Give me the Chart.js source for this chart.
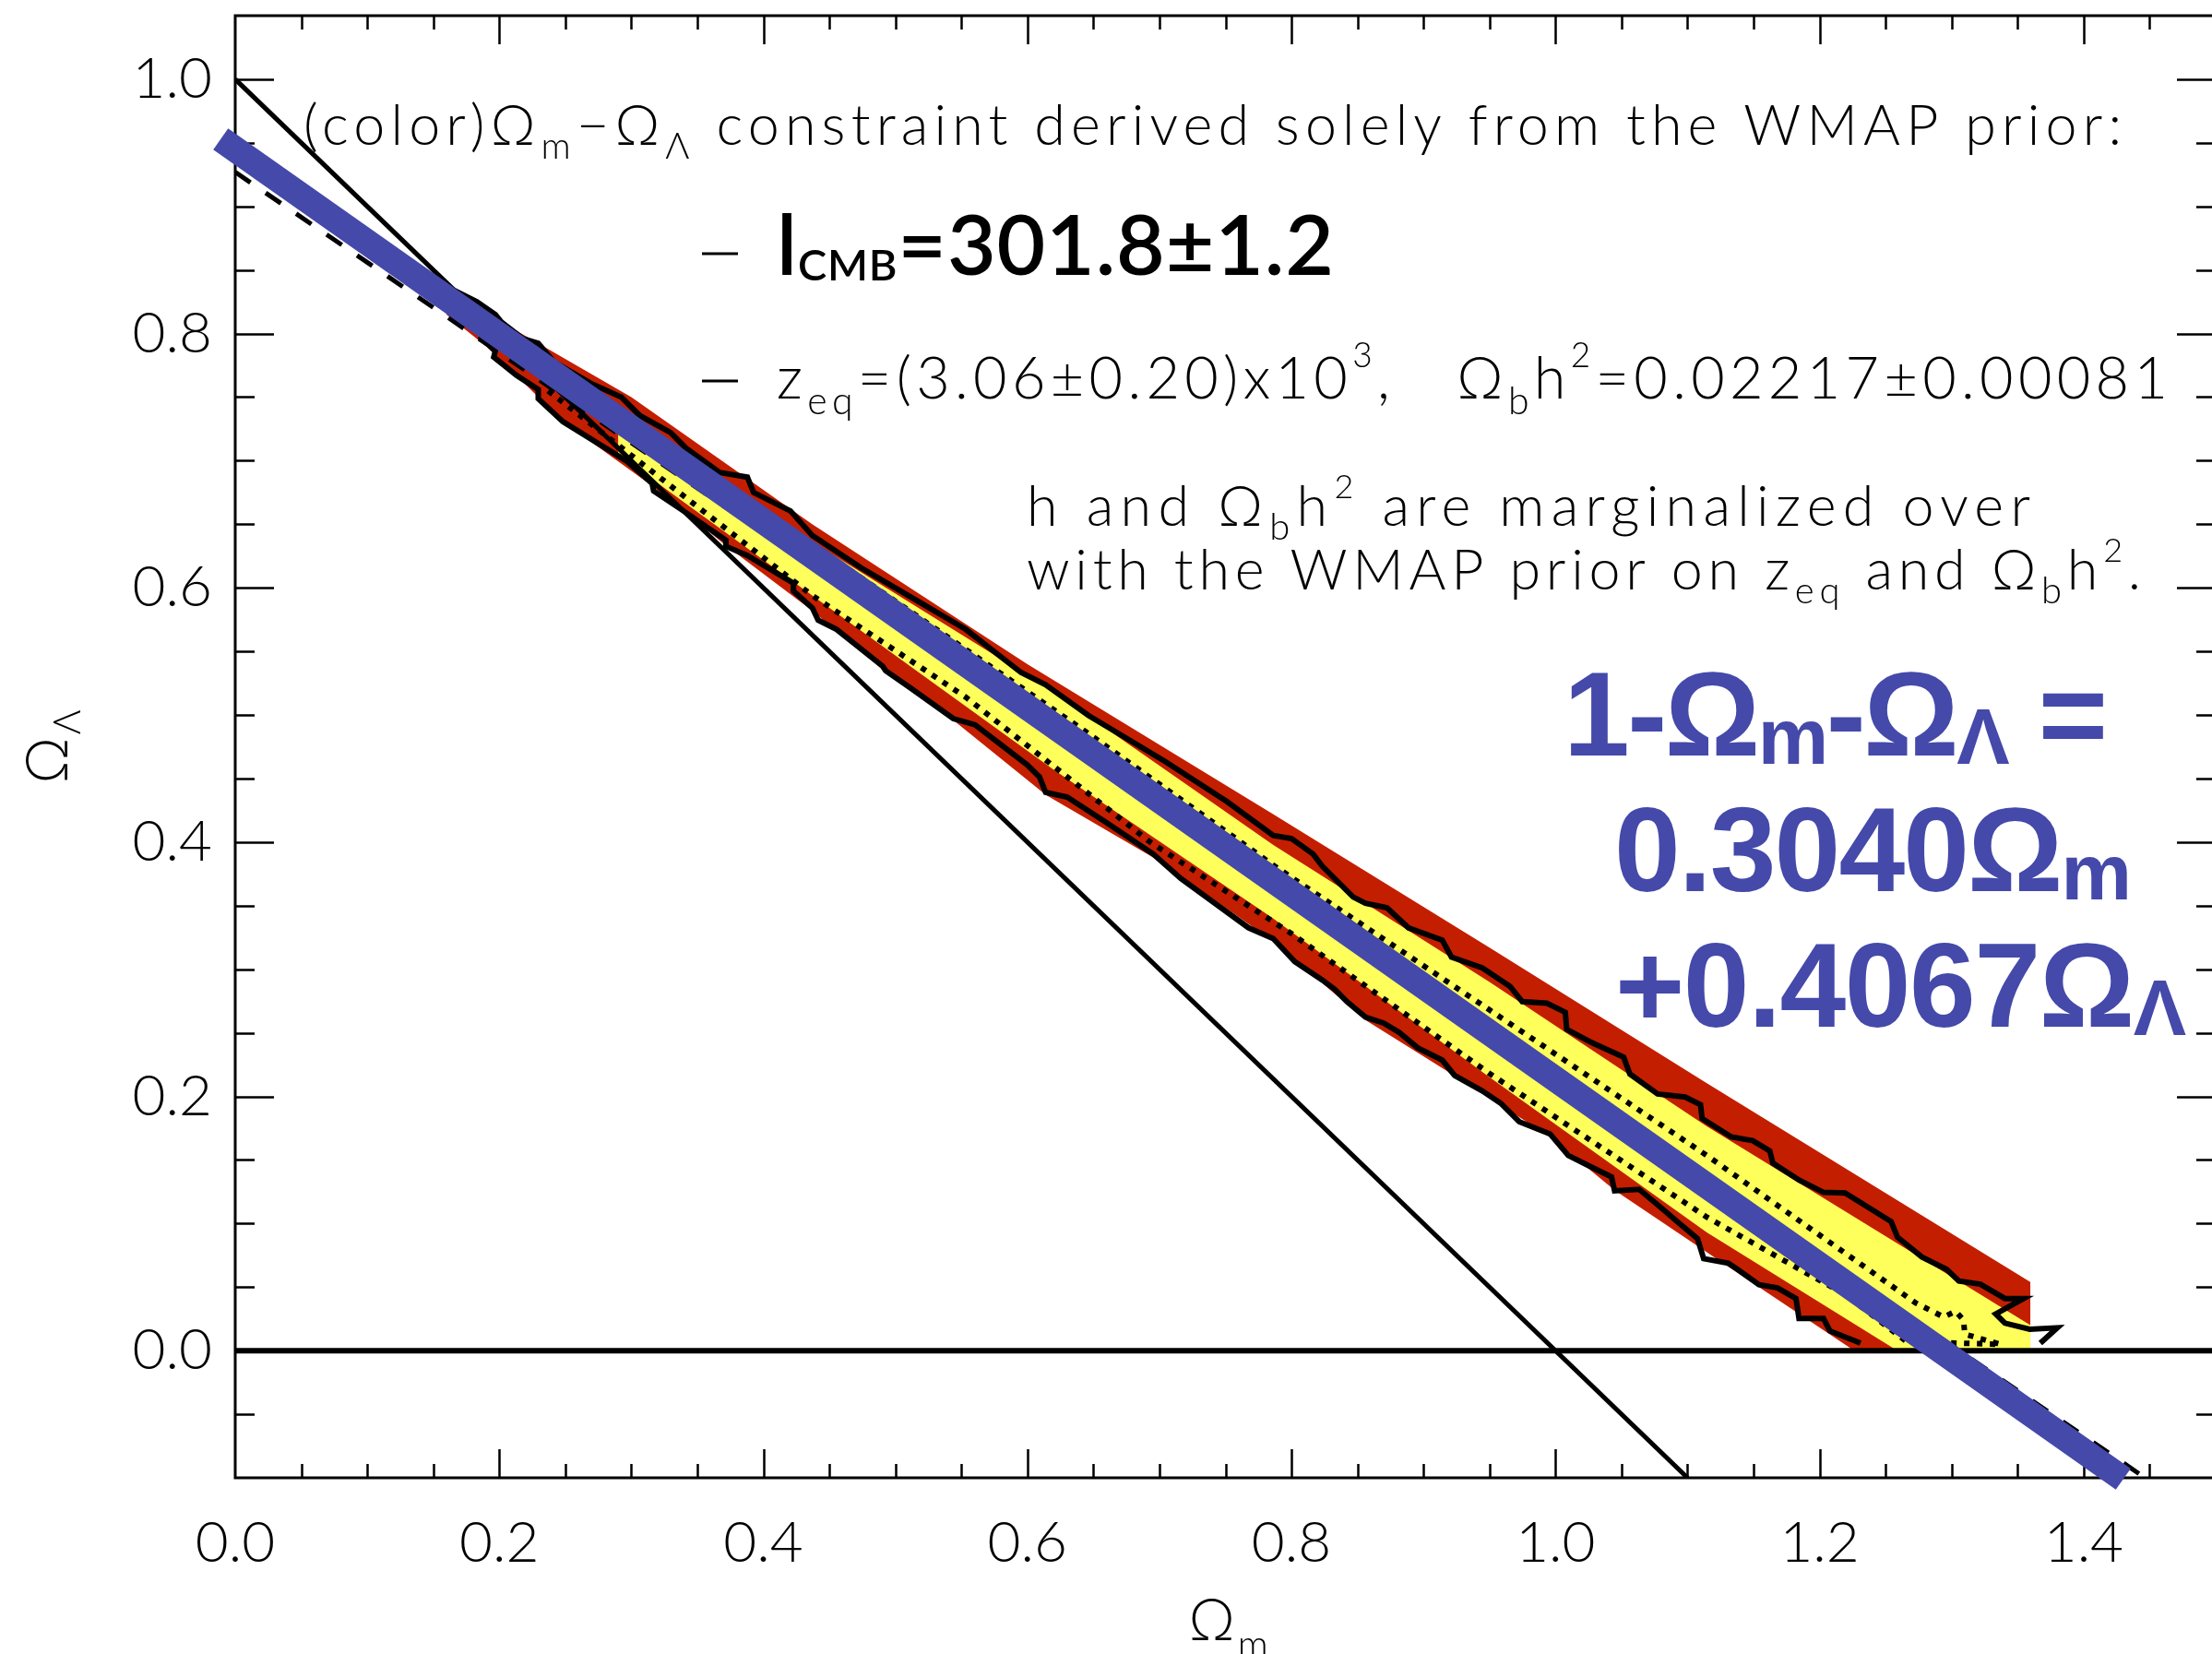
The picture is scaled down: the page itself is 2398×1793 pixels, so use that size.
<!DOCTYPE html>
<html><head><meta charset="utf-8">
<script src="https://cdn.jsdelivr.net/npm/chart.js@4.4.1/dist/chart.umd.min.js"></script>
<style>
html,body{margin:0;padding:0;background:#fff;overflow:hidden;width:2398px;height:1793px;}
#wrap{position:relative;width:2398px;height:1793px;overflow:hidden;background:#fff;}
canvas{display:block;}
</style></head><body><div id="wrap"><canvas id="c" width="2410" height="1793" style="width:2410px;height:1793px"></canvas></div>
<script>
// ---------- axis settings ----------
const xRange = [0, 1.5];
const yRange = [-0.1, 1.05];
const xTickValues = [0, 0.2, 0.4, 0.6, 0.8, 1.0, 1.2, 1.4];
const yTickValues = [0, 0.2, 0.4, 0.6, 0.8, 1.0];
const minorStep = 0.05;

// ---------- data (Omega_m, Omega_Lambda) ----------
const redRegion = [
  [0.160,0.832],[0.200,0.810],[0.300,0.750],[0.437,0.650],[0.600,0.540],[0.786,0.422],
  [0.950,0.317],[1.1146,0.2104],[1.3596,0.054],[1.3596,0.0],[1.2263,0.0],
  [1.131,0.066],[1.045,0.126],[0.996,0.168],[0.944,0.203],[0.856,0.260],[0.786,0.322],
  [0.700,0.385],[0.614,0.437],[0.545,0.495],[0.490,0.536],[0.437,0.582],[0.372,0.633],
  [0.316,0.680],[0.248,0.731],[0.213,0.767],[0.190,0.790],[0.160,0.815],[0.160,0.832]
];
const yellowRegion = [
  [0.290,0.738],[0.437,0.636],[0.6185,0.519],[0.786,0.398],[0.950,0.290],[1.1146,0.1765],
  [1.3596,0.020],[1.3596,0.0],[1.259,0.0],[1.1146,0.093],[0.950,0.215],[0.786,0.340],
  [0.6185,0.458],[0.437,0.594],[0.290,0.705],[0.290,0.738]
];
const upperContour = [
  [0.1643,0.8347],[0.183,0.825],[0.197,0.815],[0.2016,0.809],[0.2179,0.796],[0.2295,0.7924],
  [0.2412,0.7779],[0.2691,0.7609],[0.2924,0.750],[0.3064,0.7355],[0.3297,0.7222],[0.3413,0.710],
  [0.3669,0.6907],[0.3879,0.6871],[0.3926,0.675],[0.4205,0.6605],[0.4371,0.6411],[0.474,0.6157],
  [0.5137,0.5915],[0.5533,0.5673],[0.5952,0.5334],[0.6138,0.5238],[0.6464,0.4995],[0.6697,0.485],
  [0.7046,0.4632],[0.7512,0.4318],[0.7862,0.4052],[0.8001,0.4028],[0.8164,0.3906],[0.8234,0.381],
  [0.835,0.3689],[0.8467,0.3568],[0.856,0.3519],[0.8723,0.3483],[0.8886,0.3326],[0.9142,0.3229],
  [0.9212,0.3096],[0.9445,0.3011],[0.9655,0.2866],[0.9748,0.2745],[0.9934,0.2733],[1.0074,0.2661],
  [1.0085,0.2527],[1.026,0.243],[1.0516,0.2309],[1.0563,0.2176],[1.0773,0.2019],[1.0982,0.1995],
  [1.1098,0.1935],[1.111,0.1826],[1.1332,0.1681],[1.1495,0.1651],[1.1623,0.1571],[1.1646,0.1475],
  [1.1844,0.1342],[1.203,0.1245],[1.2193,0.124],[1.2542,0.1015],[1.2589,0.0894],[1.2775,0.0737],
  [1.2962,0.064],[1.3055,0.0548],[1.3218,0.0523],[1.3404,0.041],[1.3544,0.041],[1.3334,0.0289],
  [1.3404,0.0216],[1.3591,0.0168],[1.380,0.018],[1.3672,0.0059]
];
const lowerContour = [
  [0.185,0.798],[0.197,0.7863],[0.1958,0.7815],[0.2132,0.767],[0.2295,0.756],[0.2295,0.7488],
  [0.2482,0.7307],[0.2971,0.6992],[0.3157,0.6822],[0.3169,0.6762],[0.3413,0.6592],[0.3716,0.6375],
  [0.3716,0.6327],[0.3879,0.6254],[0.4228,0.6036],[0.4228,0.5975],[0.4371,0.5842],[0.4415,0.5746],
  [0.4555,0.5673],[0.4904,0.5383],[0.4927,0.5347],[0.5114,0.5213],[0.5439,0.4971],[0.5603,0.4923],
  [0.5998,0.4608],[0.6092,0.4512],[0.6138,0.4391],[0.6301,0.4354],[0.6604,0.4149],[0.6953,0.3906],
  [0.7163,0.3713],[0.7675,0.3326],[0.7862,0.3241],[0.8025,0.306],[0.8234,0.2915],[0.8328,0.2842],
  [0.842,0.2745],[0.856,0.2624],[0.870,0.2576],[0.8816,0.2503],[0.8956,0.2382],[0.9142,0.2285],
  [0.9236,0.2164],[0.9445,0.2043],[0.9585,0.1946],[0.9725,0.1801],[0.9958,0.1705],[1.0097,0.1535],
  [1.0284,0.1438],[1.0424,0.1366],[1.0447,0.1257],[1.0633,0.1269],[1.0773,0.1148],[1.0936,0.1003],
  [1.1075,0.0882],[1.1122,0.0724],[1.1308,0.0688],[1.1378,0.064],[1.1541,0.0519],[1.1681,0.0494],
  [1.1821,0.041],[1.1844,0.0253],[1.203,0.0253],[1.2077,0.0156],[1.231,0.0059]
];
const dottedContour = [
  [0.237,0.755],[0.330,0.680],[0.437,0.594],[0.5533,0.514],[0.693,0.400],[0.800,0.328],
  [0.950,0.218],[1.1146,0.105],[1.1518,0.0833],[1.189,0.0616],[1.219,0.0446],[1.266,0.007],
  [1.337,0.005],[1.310,0.013],[1.309,0.024],[1.303,0.031],[1.294,0.0265],[1.273,0.0374],
  [1.1146,0.1535],[0.950,0.268],[0.786,0.382],[0.644,0.487],[0.450,0.625],[0.237,0.765]
];
const dashedLine = [[0,0.927],[1.4465,-0.1]];
const flatLine   = [[0,1.0],[1.1,-0.1]];
const zeroLine   = [[0,0],[1.5,0]];
const fitLine    = [[-0.011,0.953],[1.43,-0.101]];

const toXY = a => a.map(([x,y]) => ({x, y}));

// ---------- text ----------
const THIN = 'Lato, "DejaVu Sans", sans-serif';
const BOLDF = 'Lato, "DejaVu Sans", sans-serif';
const ARIAL = '"Liberation Sans", Arial, sans-serif';
const BLUE = '#4449AA';
const t58 = `300 61px ${THIN}`, s38 = `300 40px ${THIN}`, p34 = `300 36px ${THIN}`;
const t62 = `300 63px ${THIN}`, s40 = `300 41px ${THIN}`, p36 = `300 37px ${THIN}`;
const b91 = `600 91px ${BOLDF}`, b47 = `600 47px ${BOLDF}`;
const B129 = `700 129px ${ARIAL}`, B86 = `700 86px ${ARIAL}`;

const annotations = [
  {x:329, y:157, w:1971, runs:[
    {t:'(color)Ω', f:t58},{t:'m', f:s38, dy:15},{t:'−Ω', f:t58},{t:'Λ', f:s38, dy:15},
    {t:' constraint derived solely from the WMAP prior:', f:t58}]},
  {x:842, y:298, w:604, runs:[
    {t:'l', f:b91},{t:'CMB', f:b47, dy:6},{t:'=301.8±1.2', f:b91}]},
  {x:842, y:432, w:1508, runs:[
    {t:'z', f:t62},{t:'eq', f:s40, dy:17},{t:'=(3.06±0.20)x10', f:t62},{t:'3', f:p36, dy:-34},
    {t:',   Ω', f:t62},{t:'b', f:s40, dy:17},{t:'h', f:t62},{t:'2', f:p36, dy:-34},
    {t:'=0.02217±0.00081', f:t62}]},
  {x:1113, y:570, w:1088, runs:[
    {t:'h and Ω', f:t58},{t:'b', f:s38, dy:15},{t:'h', f:t58},{t:'2', f:p34, dy:-30},
    {t:' are marginalized over', f:t58}]},
  {x:1113, y:639, w:1208, runs:[
    {t:'with the WMAP prior on z', f:t58},{t:'eq', f:s38, dy:15},{t:' and Ω', f:t58},
    {t:'b', f:s38, dy:15},{t:'h', f:t58},{t:'2', f:p34, dy:-30},{t:'.', f:t58}]},
  {x:1695, y:819, w:590, color:BLUE, runs:[
    {t:'1-Ω', f:B129},{t:'m', f:B86, dy:9},{t:'-Ω', f:B129},{t:'Λ', f:B86, dy:9},{t:' =', f:B129}]},
  {x:1750, y:966, w:561, color:BLUE, runs:[{t:'0.3040Ω', f:B129},{t:'m', f:B86, dy:9}]},
  {x:1751, y:1113, w:619, color:BLUE, runs:[{t:'+0.4067Ω', f:B129},{t:'Λ', f:B86, dy:9}]}
];
const legendDashes = [{x1:761, x2:800, y:275},{x1:761, x2:800, y:413}];

function drawRich(ctx, a) {
  ctx.save();
  ctx.fillStyle = a.color || '#000';
  ctx.textAlign = 'left';
  ctx.textBaseline = 'alphabetic';
  const hasLS = ('letterSpacing' in ctx);
  let nat = 0, n = 0;
  for (const r of a.runs) {
    ctx.font = r.f; if (hasLS) ctx.letterSpacing = '0px';
    r._w = ctx.measureText(r.t).width; nat += r._w; n += [...r.t].length;
  }
  const extra = a.w ? (a.w - nat) / Math.max(1, n - 1) : 0;
  let x = a.x;
  for (const r of a.runs) {
    ctx.font = r.f;
    const chars = [...r.t];
    if (hasLS) {
      ctx.letterSpacing = extra.toFixed(2) + 'px';
      ctx.fillText(r.t, x, a.y + (r.dy || 0));
      x += r._w + extra * chars.length;
    } else {
      for (const ch of chars) {
        ctx.fillText(ch, x, a.y + (r.dy || 0));
        x += ctx.measureText(ch).width + extra;
      }
    }
  }
  ctx.restore();
}

const framePlugin = {
  id: 'frame',
  beforeDatasetsDraw(chart) {
    const {ctx, chartArea: a, scales: {x, y}} = chart;
    ctx.save();
    ctx.strokeStyle = '#000';
    ctx.lineWidth = 3;
    ctx.lineCap = 'butt';
    ctx.strokeRect(a.left, a.top, a.right - a.left, a.bottom - a.top);
    ctx.beginPath();
    const nx = Math.round((xRange[1] - xRange[0]) / minorStep);
    for (let i = 1; i < nx; i++) {
      const v = xRange[0] + i * minorStep;
      const px = Math.round(x.getPixelForValue(v)) + 0.5;
      const major = xTickValues.some(t => Math.abs(t - v) < 1e-6);
      const L = major ? 31 : 15;
      ctx.moveTo(px, a.bottom); ctx.lineTo(px, a.bottom - L);
      ctx.moveTo(px, a.top); ctx.lineTo(px, a.top + L);
    }
    const y0 = Math.ceil(yRange[0] / minorStep - 1e-6), y1 = Math.floor(yRange[1] / minorStep + 1e-6);
    for (let i = y0; i <= y1; i++) {
      const v = i * minorStep;
      if (v <= yRange[0] + 1e-6 || v >= yRange[1] - 1e-6) continue;
      const py = Math.round(y.getPixelForValue(v)) + 0.5;
      const major = Math.abs(v / 0.2 - Math.round(v / 0.2)) < 1e-6;
      const L = major ? 42 : 21;
      ctx.moveTo(a.left, py); ctx.lineTo(a.left + L, py);
      ctx.moveTo(a.right, py); ctx.lineTo(a.right - L, py);
    }
    ctx.lineWidth = 2.5;
    ctx.stroke();
    ctx.restore();
  },
  afterDraw(chart) {
    const {ctx, chartArea: a} = chart;
    ctx.save();
    ctx.fillStyle = '#000';
    ctx.textBaseline = 'alphabetic';
    ctx.textAlign = 'left';
    const cx = (a.left + a.right) / 2;
    ctx.font = t62;
    const wO = ctx.measureText('Ω').width;
    ctx.fillText('Ω', cx - 40, 1778);
    ctx.font = s40;
    ctx.fillText('m', cx - 40 + wO + 3, 1797);
    const cy = (a.top + a.bottom) / 2;
    ctx.translate(73, cy + 40);
    ctx.rotate(-Math.PI / 2);
    ctx.font = t62;
    ctx.fillText('Ω', 0, 0);
    ctx.font = s40;
    ctx.fillText('Λ', wO + 3, 14);
    ctx.restore();
    ctx.save();
    ctx.strokeStyle = '#000'; ctx.lineWidth = 3;
    ctx.beginPath();
    for (const d of legendDashes) { ctx.moveTo(d.x1, d.y); ctx.lineTo(d.x2, d.y); }
    ctx.stroke();
    ctx.restore();
    for (const an of annotations) drawRich(ctx, an);
  }
};

const tickFont = {family: THIN, size: 62, weight: '300'};

new Chart(document.getElementById('c'), {
  type: 'line',
  data: {datasets: [
    {data: toXY(fitLine), borderColor: BLUE, borderWidth: 28, clip: false, order: 0, borderCapStyle: 'butt'},
    {data: toXY(zeroLine), borderColor: '#000', borderWidth: 6, order: 1},
    {data: toXY(flatLine), borderColor: '#000', borderWidth: 5, order: 2},
    {data: toXY(dashedLine), borderColor: '#000', borderWidth: 5, borderDash: [20, 20], order: 3},
    {data: toXY(dottedContour), borderColor: '#000', borderWidth: 6, borderDash: [6, 8], order: 4},
    {data: toXY(upperContour), borderColor: '#000', borderWidth: 6, borderJoinStyle: 'miter', order: 5},
    {data: toXY(lowerContour), borderColor: '#000', borderWidth: 6, borderJoinStyle: 'miter', order: 6},
    {data: toXY(yellowRegion), borderColor: 'rgba(0,0,0,0)', borderWidth: 1, backgroundColor: '#FFFF5C', fill: 'shape', order: 7},
    {data: toXY(redRegion), borderColor: 'rgba(0,0,0,0)', borderWidth: 1, backgroundColor: '#C41E00', fill: 'shape', order: 8}
  ]},
  options: {
    animation: false,
    responsive: false,
    devicePixelRatio: 1,
    elements: {point: {radius: 0, hoverRadius: 0}, line: {tension: 0}},
    plugins: {legend: {display: false}, tooltip: {enabled: false}, title: {display: false}},
    layout: {padding: {left: 0, right: 8, top: 17, bottom: 0}},
    scales: {
      x: {
        type: 'linear', min: xRange[0], max: xRange[1],
        grid: {display: false, drawTicks: false},
        border: {display: false},
        ticks: {font: tickFont, color: '#000', padding: 34, maxRotation: 0, autoSkip: false,
                callback: v => Number(v).toFixed(1)},
        afterBuildTicks: s => { s.ticks = xTickValues.map(v => ({value: v})); },
        afterFit: s => { s.height = 191; s.paddingLeft = 0; s.paddingRight = 0; }
      },
      y: {
        type: 'linear', min: yRange[0], max: yRange[1],
        grid: {display: false, drawTicks: false},
        border: {display: false},
        ticks: {font: tickFont, color: '#000', padding: 25, autoSkip: false,
                callback: v => Number(v).toFixed(1)},
        afterBuildTicks: s => { s.ticks = yTickValues.map(v => ({value: v})); },
        afterFit: s => { s.width = 255; s.paddingTop = 0; s.paddingBottom = 0; }
      }
    }
  },
  plugins: [framePlugin]
});
</script></body></html>
